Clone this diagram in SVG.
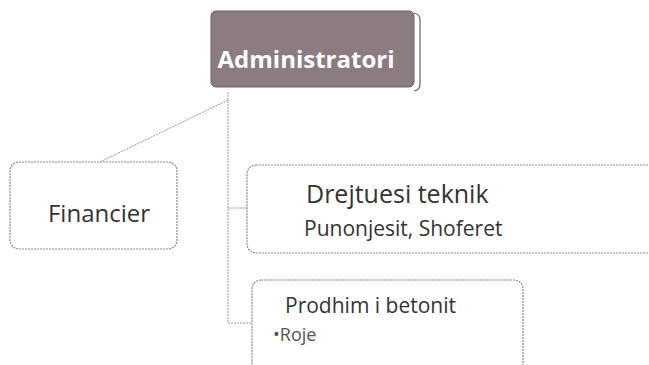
<svg xmlns="http://www.w3.org/2000/svg" width="649" height="365" viewBox="0 0 649 365">
<style>
.box{fill:#fff;stroke:#888;stroke-width:1.2;stroke-dasharray:2 1}
.ln{fill:none;stroke:#999;stroke-width:1;stroke-dasharray:2 1}
.t{font-family:"Open Sans","Noto Sans",sans-serif;fill:#333}
</style>
<rect width="649" height="365" fill="#fff"/>
<g id="connectors">
<path class="ln" d="M228,92 V323 H252"/>
<path class="ln" d="M228,208 H248"/>
<path class="ln" d="M228,100 L100,162"/>
</g>
<g id="admin">
<rect x="211" y="11" width="203" height="76" rx="5" fill="#8c7c82" stroke="#6e6066" stroke-width="1"/>
<path d="M414,13 Q420,14 420,20 V84 Q420,90 414,91" fill="none" stroke="#666" stroke-width="1.2"/>
<text class="t" x="306" y="68" text-anchor="middle" font-size="24" font-weight="bold" style="fill:#fff">Administratori</text>
</g>
<g id="financier">
<rect class="box" x="10" y="162" width="167" height="87" rx="9"/>
<text class="t" x="99" y="222" text-anchor="middle" font-size="24">Financier</text>
</g>
<g id="drejtuesi">
<rect class="box" x="247" y="165" width="420" height="88" rx="9"/>
<text class="t" x="306" y="203" font-size="25">Drejtuesi teknik</text>
<text class="t" x="304" y="236" font-size="21">Punonjesit, Shoferet</text>
</g>
<g id="prodhim">
<rect class="box" x="252" y="280" width="271" height="110" rx="9"/>
<text class="t" x="285" y="313" font-size="21">Prodhim i betonit</text>
<text class="t" x="273" y="341" font-size="18" style="fill:#555">•Roje</text>
</g>
</svg>
